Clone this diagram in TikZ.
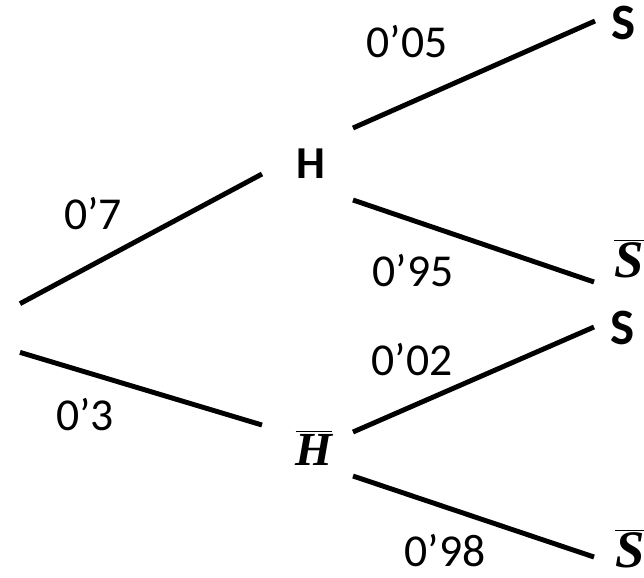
\documentclass[tikz,border=0pt]{standalone}
\usepackage{fontspec}
\setmainfont{Carlito}
\newfontfamily\barfont{Liberation Serif}
\usepackage{tikz}

\newcommand{\barred}[1]{$\overline{\hbox{\barfont\bfseries\itshape #1}}$}

\begin{document}
\begin{tikzpicture}[
    branch/.style={line width=2.8pt, black},
    prob/.style={font=\fontsize{26}{30}\selectfont, inner sep=0pt},
    event/.style={font=\fontsize{29}{32}\selectfont\bfseries, inner sep=0pt},
    nevent/.style={font=\fontsize{30}{34}\selectfont, inner sep=0pt},
]
    \useasboundingbox (0,0) rectangle (12.88,-11.54);

    \node[inner sep=0pt, minimum width=0pt, minimum height=0.96cm] (root) at (0.40,-6.56) {};

    \node[event, font=\fontsize{26}{30}\selectfont\bfseries] (H) at (6.22,-3.28) {H};
    \node[nevent, font=\fontsize{27}{30}\selectfont] (Hb) at (6.28,-8.96) {\barred{H}};

    \node[event] (S1) at (12.48,-0.46) {S};
    \node[nevent] (Sb1) at (12.58,-5.17) {\barred{S}};
    \node[event] (S2) at (12.46,-6.56) {S};
    \node[nevent] (Sb2) at (12.60,-10.98) {\barred{S}};

    \draw[branch] (root.north) -- ([shift={(-0.98,-0.20)}]H.center);
    \draw[branch] (root.south) -- ([shift={(-1.04,0.46)}]Hb.center);
    \draw[branch] ([shift={(0.84,0.72)}]H.center) -- ([shift={(-0.58,0.04)}]S1.center);
    \draw[branch] ([shift={(0.84,-0.72)}]H.center) -- ([shift={(-0.70,-0.47)}]Sb1.center);
    \draw[branch] ([shift={(0.78,0.32)}]Hb.center) -- ([shift={(-0.58,0.02)}]S2.center);
    \draw[branch] ([shift={(0.78,-0.56)}]Hb.center) -- ([shift={(-0.72,-0.16)}]Sb2.center);

    % Probabilities
    \node[prob] (p7) at (1.86,-4.28) {0’7};
    \node[prob] (p3) at (1.70,-8.30) {0’3};
    \node[prob] (p05) at (8.14,-0.84) {0’05};
    \node[prob] (p95) at (8.26,-5.42) {0’95};
    \node[prob] (p02) at (8.24,-7.20) {0’02};
    \node[prob] (p98) at (8.90,-11.02) {0’98};
\end{tikzpicture}
\end{document}
